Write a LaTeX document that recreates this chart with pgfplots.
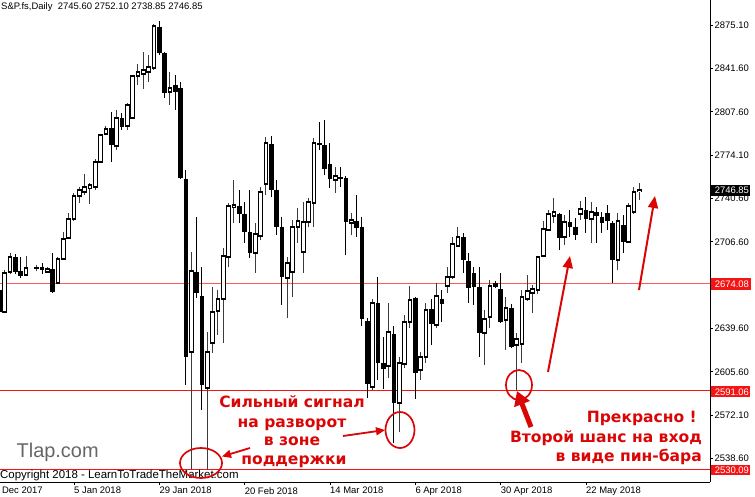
\documentclass[border=0pt]{standalone}
\usepackage{pgfplots}
\pgfplotsset{compat=1.18}
\usepackage{pgfplotstable}
\usepackage{fontspec}
\setmainfont{Liberation Sans}
\newfontfamily\annotfont{DejaVu Sans}
\usetikzlibrary{arrows.meta}
\definecolor{annred}{RGB}{218,6,6}
\definecolor{wick}{RGB}{60,60,60}
\definecolor{lvl}{RGB}{245,20,20}
\definecolor{pinkline}{RGB}{255,90,90}

\pgfplotstableread{
i o h l c
1 2652.1 2684.7 2651.3 2682.4
2 2683.2 2697.9 2681.6 2694.8
5 2680.8 2695.6 2680.0 2686.3
7 2686.0 2688.6 2683.9 2686.3
9 2683.2 2687.0 2683.2 2685.5
11 2674.6 2694.8 2673.8 2693.3
12 2693.3 2714.2 2692.5 2708.8
13 2709.6 2729.0 2708.8 2724.3
14 2724.3 2744.5 2722.8 2742.2
15 2742.2 2749.2 2736.8 2746.9
16 2745.3 2759.3 2743.0 2749.2
17 2748.4 2752.3 2736.0 2750.8
18 2749.2 2771.0 2746.9 2768.6
19 2768.6 2790.4 2767.8 2789.6
20 2790.4 2796.6 2789.6 2794.3
22 2781.1 2809.0 2777.9 2802.8
24 2796.6 2814.5 2793.5 2812.9
25 2802.8 2836.2 2802.0 2835.4
26 2835.4 2844.8 2828.5 2838.6
27 2837.0 2854.1 2825.3 2840.1
28 2838.6 2851.8 2830.8 2842.4
29 2841.7 2875.9 2840.1 2874.3
32 2823.0 2838.6 2812.9 2826.1
36 2621.0 2698.7 2530.0 2683.9
39 2593.0 2636.5 2530.0 2621.0
40 2628.0 2671.5 2620.2 2652.1
41 2652.9 2669.2 2634.2 2662.2
42 2662.2 2701.8 2628.0 2695.6
43 2694.8 2736.8 2687.0 2734.4
44 2733.7 2754.6 2721.2 2735.2
48 2697.9 2721.2 2682.4 2712.7
49 2711.1 2749.2 2708.0 2745.3
50 2751.5 2788.1 2743.0 2783.4
54 2678.5 2694.8 2647.4 2690.1
55 2683.2 2723.6 2663.7 2718.1
56 2718.1 2732.9 2705.7 2722.8
57 2698.7 2737.5 2682.4 2722.0
58 2722.0 2740.7 2718.1 2737.5
59 2736.8 2787.3 2718.1 2783.4
63 2754.6 2764.7 2744.5 2757.7
66 2721.2 2729.0 2711.9 2723.6
70 2593.8 2662.2 2591.5 2659.1
73 2610.1 2659.1 2600.8 2636.5
75 2581.4 2617.1 2558.8 2612.4
76 2611.7 2649.7 2608.6 2644.3
77 2644.3 2672.3 2639.6 2661.4
79 2607.0 2621.0 2599.2 2617.1
80 2617.1 2659.1 2612.4 2653.6
82 2642.0 2674.6 2639.6 2664.5
84 2672.3 2687.0 2666.8 2679.3
85 2679.3 2710.4 2677.7 2704.9
86 2703.4 2718.1 2702.6 2710.4
91 2635.8 2653.6 2610.9 2646.6
92 2648.2 2676.9 2639.6 2672.3
95 2645.9 2663.7 2622.5 2655.2
97 2626.4 2635.8 2591.5 2631.1
98 2627.2 2669.2 2612.4 2663.7
99 2662.2 2680.8 2660.6 2668.4
100 2666.8 2673.1 2651.3 2669.9
101 2669.2 2695.6 2666.1 2694.8
102 2695.6 2722.8 2694.8 2716.6
103 2715.8 2731.3 2715.0 2728.2
104 2726.7 2740.7 2721.2 2729.8
106 2710.4 2727.4 2704.1 2722.0
109 2728.2 2738.3 2723.6 2732.1
111 2724.3 2737.5 2705.7 2729.8
116 2692.5 2729.0 2684.7 2722.8
118 2706.5 2736.8 2705.7 2734.4
119 2729.8 2749.2 2728.2 2745.3
120 2745.60 2752.10 2738.85 2746.85
}\bull

\pgfplotstableread{
i o h l c
0 2669.2 2673.1 2650.5 2652.1
3 2694.8 2697.1 2681.6 2683.2
4 2683.9 2694.8 2678.5 2680.0
8 2687.0 2690.1 2681.6 2684.7
10 2685.5 2697.9 2666.8 2667.6
21 2795.0 2807.5 2768.6 2781.8
23 2802.8 2806.7 2793.5 2795.8
30 2873.5 2878.2 2851.8 2853.3
31 2853.3 2854.1 2818.4 2822.2
33 2828.5 2836.2 2809.0 2823.0
34 2826.1 2830.8 2755.4 2756.2
35 2755.4 2762.4 2595.4 2617.1
37 2683.2 2725.9 2663.0 2666.8
38 2664.5 2687.0 2575.9 2595.4
45 2734.4 2746.9 2721.2 2728.2
46 2728.2 2737.5 2705.7 2714.2
47 2714.2 2746.9 2694.0 2697.9
51 2782.6 2788.8 2741.4 2746.9
52 2746.9 2754.6 2711.9 2718.1
53 2718.1 2725.9 2657.5 2679.3
60 2783.4 2799.7 2777.9 2782.6
61 2781.8 2801.3 2758.5 2763.2
62 2767.1 2783.4 2748.4 2755.4
64 2757.0 2764.7 2749.2 2755.4
65 2756.2 2757.7 2696.4 2722.0
67 2722.8 2743.0 2710.4 2717.3
68 2718.1 2725.9 2641.2 2646.6
69 2645.1 2647.4 2585.3 2596.1
71 2659.1 2679.3 2599.2 2612.4
72 2612.4 2632.7 2592.2 2607.8
74 2635.0 2641.2 2550.3 2581.4
78 2663.0 2663.7 2584.5 2604.7
81 2654.4 2662.2 2626.4 2642.8
83 2662.2 2669.2 2644.3 2658.3
87 2710.4 2713.5 2682.4 2692.5
88 2691.7 2697.9 2659.1 2670.7
89 2682.4 2687.0 2657.5 2671.5
90 2671.5 2687.0 2617.1 2635.8
93 2674.6 2676.2 2670.7 2671.5
94 2669.9 2682.4 2643.5 2644.3
96 2655.2 2658.3 2624.1 2624.9
105 2728.2 2729.0 2700.2 2709.6
107 2722.0 2731.3 2710.4 2718.1
108 2718.1 2725.1 2708.0 2711.9
110 2731.3 2741.4 2713.5 2724.3
112 2729.8 2733.7 2705.7 2726.7
113 2725.9 2729.8 2713.5 2721.2
114 2729.0 2735.2 2715.8 2722.8
115 2721.2 2722.8 2674.6 2692.5
117 2719.7 2727.4 2697.9 2706.5
}\bear

\begin{document}
\begin{tikzpicture}
\begin{axis}[
  scale only axis, width=710bp, height=482bp,
  xmin=0.1243, xmax=133.26, ymin=2520.0, ymax=2894.5,
  axis x line*=bottom, axis y line*=right,
  axis line style={black, line width=0.9bp},
  tick align=outside, major tick length=3bp,
  tick style={black, line width=0.8bp},
  xtick={14,30,46,62,78,94,110},
  xticklabels={5 Jan 2018, 29 Jan 2018, 20 Feb 2018, 14 Mar 2018, 6 Apr 2018, 30 Apr 2018, 22 May 2018},
  xticklabel style={anchor=north west, inner sep=0pt, yshift=-2bp},
  ytick={2538.6,2572.1,2605.6,2639.6,2706.6,2740.6,2774.1,2807.6,2841.6,2875.1},
  yticklabel style={anchor=west, inner sep=0pt, xshift=1.5bp,
    /pgf/number format/.cd, fixed, fixed zerofill, precision=2, 1000 sep={}},
  ticklabel style={font=\fontsize{9.5}{11}\selectfont},
  /pgf/number format/assume math mode=true,
]
% support / resistance levels
\addplot[draw=lvl, line width=1bp, mark=none, forget plot] coordinates {(0,2591.06) (134,2591.06)};
\addplot[draw=pinkline, line width=1bp, mark=none, forget plot] coordinates {(0,2674.08) (134,2674.08)};
\addplot[draw=lvl, line width=1bp, mark=none, forget plot] coordinates {(0,2530.09) (134,2530.09)};
% wicks
\addplot[draw=none, mark=none, forget plot, error bars/.cd, y dir=plus, y explicit, error mark=none,
  error bar style={draw=wick, line width=1bp}]
  table[x=i, y=l, y error expr=\thisrow{h}-\thisrow{l}] {\bull};
\addplot[draw=none, mark=none, forget plot, error bars/.cd, y dir=plus, y explicit, error mark=none,
  error bar style={draw=black, line width=1bp}]
  table[x=i, y=l, y error expr=\thisrow{h}-\thisrow{l}] {\bear};
% bear bodies
\addplot[draw=none, mark=none, forget plot, error bars/.cd, y dir=both, y explicit, error mark=none,
  error bar style={draw=black, line width=4.6bp}]
  table[x=i, y expr={(\thisrow{o}+\thisrow{c})/2}, y error expr={max(abs(\thisrow{o}-\thisrow{c})/2,0.45)}] {\bear};
% bull bodies: outline then white inside
\addplot[draw=none, mark=none, forget plot, error bars/.cd, y dir=both, y explicit, error mark=none,
  error bar style={draw=black, line width=4.6bp}]
  table[x=i, y expr={(\thisrow{o}+\thisrow{c})/2}, y error expr={abs(\thisrow{c}-\thisrow{o})/2+0.6}] {\bull};
\addplot[draw=none, mark=none, forget plot, error bars/.cd, y dir=both, y explicit, error mark=none,
  error bar style={draw=white, line width=2.6bp}]
  table[x=i, y expr={(\thisrow{o}+\thisrow{c})/2}, y error expr={max(abs(\thisrow{c}-\thisrow{o})/2-0.6,0)}] {\bull};
\end{axis}

\begin{scope}[shift={(0bp,482bp)}, x=1bp, y=-1bp]
  % header
  \node[anchor=base west, inner sep=0pt, font=\fontsize{9.5}{11}\selectfont] at (1,9.5)
    {S\&P.fs,Daily\ \ 2745.60 2752.10 2738.85 2746.85};
  % partial date label
  \node[anchor=base west, inner sep=0pt, font=\fontsize{9.5}{11}\selectfont] at (-11.3,494) {12 Dec 2017};
  % watermark and copyright
  \node[anchor=base west, inner sep=0pt, text=black!60, font=\fontsize{20}{22}\selectfont] at (16.5,458) {Tlap.com};
  \node[anchor=base west, inner sep=0pt, font=\fontsize{11.5}{13}\selectfont] at (0,479) {Copyright 2018 - LearnToTradeTheMarket.com};
  % price boxes
  \fill[black] (710.7,185) rectangle (749.5,196);
  \node[anchor=west, inner sep=0pt, text=white, font=\fontsize{9.5}{11}\selectfont] at (714.6,190.5) {2746.85};
  \fill[lvl] (711,278.5) rectangle (750.5,290);
  \node[anchor=west, inner sep=0pt, text=white, font=\fontsize{9.5}{11}\selectfont] at (714.6,284.2) {2674.08};
  \fill[lvl] (711,386.5) rectangle (750,397);
  \node[anchor=west, inner sep=0pt, text=white, font=\fontsize{9.5}{11}\selectfont] at (714.6,391.8) {2591.06};
  \fill[lvl] (711,465.5) rectangle (750,475.5);
  \node[anchor=west, inner sep=0pt, text=white, font=\fontsize{9.5}{11}\selectfont] at (714.6,470.5) {2530.09};
  % ellipses
  \draw[annred, line width=1.7bp] (201,463) ellipse [x radius=21, y radius=15];
  \draw[annred, line width=1.7bp] (400,430) ellipse [x radius=14.5, y radius=18];
  \draw[annred, line width=1.7bp] (519,385) ellipse [x radius=13, y radius=15];
  % arrows
  \draw[annred, line width=1.8bp, -{Triangle[length=9bp, width=8bp]}] (250,448) -- (222,456.5);
  \draw[annred, line width=1.8bp, -{Triangle[length=9bp, width=8bp]}] (343,436) -- (385,430);
  \draw[annred, line width=5bp, -{Triangle[length=14bp, width=16bp]}] (531,427) -- (517,391);
  \draw[annred, line width=2bp, -{Triangle[length=12bp, width=10bp]}] (548,372) -- (570,256);
  \draw[annred, line width=2bp, -{Triangle[length=12bp, width=10bp]}] (639,290) -- (655,196);
  % red texts
  \begin{scope}[every node/.style={inner sep=0pt, text=annred, font=\annotfont\bfseries\fontsize{15.6}{18}\selectfont}]
    \node[anchor=base] at (292,408) {Сильный сигнал};
    \node[anchor=base] at (292,427.5) {на разворот};
    \node[anchor=base] at (292,446) {в зоне};
    \node[anchor=base] at (294,464.5) {поддержки};
    \node[anchor=base east] at (697,422.7) {Прекрасно !};
    \node[anchor=base east] at (702,442.7) {Второй шанс на вход};
    \node[anchor=base east] at (702,461.7) {в виде пин-бара};
  \end{scope}
\end{scope}
\pgfresetboundingbox
\path[use as bounding box] (0bp,-15bp) rectangle (755bp,482bp);
\end{tikzpicture}
\end{document}
